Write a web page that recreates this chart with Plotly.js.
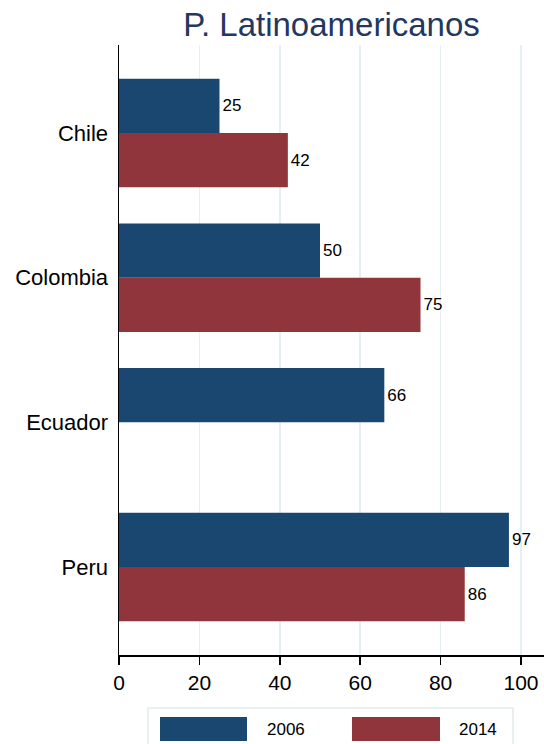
<!DOCTYPE html>
<html>
<head>
<meta charset="utf-8">
<script src="https://cdn.plot.ly/plotly-3.0.1.min.js"></script>
<style>html,body{margin:0;padding:0;background:#fff;}#chart{width:544px;height:744px;}</style>
</head>
<body>
<div id="chart"></div>
<script>
const categories = ["Chile", "Colombia", "Ecuador", "Peru"];
const values2006 = [25, 50, 66, 97];
const values2014 = [42, 75, null, 86];
const seriesNames = ["2006", "2014"];
const xTicks = [0, 20, 40, 60, 80, 100];

const colors = ["#1a476f", "#90353b"];
const font = "Liberation Sans, Arial, sans-serif";

function barTrace(vals, name, color) {
  return {
    type: "bar", orientation: "h",
    y: categories, x: vals, name: name,
    marker: {color: color, line: {width: 0}},
    text: vals.map(v => v == null ? "" : String(v)),
    textposition: "outside",
    cliponaxis: false,
    textfont: {family: font, size: 17, color: "#000"},
    hoverinfo: "x+y"
  };
}

const data = [
  barTrace(values2006, seriesNames[0], colors[0]),
  barTrace(values2014, seriesNames[1], colors[1])
];

const W = 544, H = 744, L = 119, R = 0, T = 45, B = 89;
const pw = W - L - R, ph = H - T - B;
const px = X => (X - L) / pw;
const py = Y => (H - B - Y) / ph;

const shapes = [
  {type: "rect", xref: "paper", yref: "paper", x0: px(148), x1: px(513), y0: py(708), y1: py(760),
   line: {color: "#e4ecee", width: 1.5}, fillcolor: "rgba(0,0,0,0)", layer: "above"},
  {type: "rect", xref: "paper", yref: "paper", x0: px(160), x1: px(247), y0: py(717), y1: py(741),
   line: {width: 0}, fillcolor: colors[0]},
  {type: "rect", xref: "paper", yref: "paper", x0: px(352), x1: px(440), y0: py(717), y1: py(741),
   line: {width: 0}, fillcolor: colors[1]}
];
const annotations = [
  {xref: "paper", yref: "paper", x: px(265), y: py(729), xanchor: "left", yanchor: "middle",
   text: seriesNames[0], showarrow: false, font: {family: font, size: 17, color: "#000"}},
  {xref: "paper", yref: "paper", x: px(457), y: py(729), xanchor: "left", yanchor: "middle",
   text: seriesNames[1], showarrow: false, font: {family: font, size: 17, color: "#000"}}
];

const layout = {
  width: W, height: H,
  margin: {l: L, r: R, t: T, b: B, pad: 0},
  paper_bgcolor: "#fff", plot_bgcolor: "#fff",
  barmode: "group", bargap: 0.25, bargroupgap: 0,
  showlegend: false,
  title: {text: "P. Latinoamericanos", x: 0.5, xref: "paper", xanchor: "center",
          y: 1 - 24 / H, yref: "container", yanchor: "middle",
          font: {family: font, size: 33, color: "#23375f"}},
  xaxis: {
    range: [0, pw / 4.02], tickvals: xTicks, ticktext: xTicks.map(String),
    showgrid: true, gridcolor: "#e6eff1", gridwidth: 1.5,
    zeroline: false, showline: true, linecolor: "#000", linewidth: 1.5,
    ticks: "outside", ticklen: 8, tickwidth: 1.5, tickcolor: "#000",
    tickfont: {family: font, size: 21, color: "#000"}, fixedrange: true
  },
  yaxis: {
    type: "category", categoryorder: "array", categoryarray: categories,
    range: [3.608, -0.608], showgrid: false, zeroline: false,
    showline: true, linecolor: "#000", linewidth: 1.5,
    ticks: "", ticklabelstandoff: 5,
    tickfont: {family: font, size: 22, color: "#000"}, fixedrange: true
  },
  shapes: shapes, annotations: annotations,
  font: {family: font}
};

Plotly.newPlot("chart", data, layout, {displayModeBar: false, staticPlot: true});
</script>
</body>
</html>
